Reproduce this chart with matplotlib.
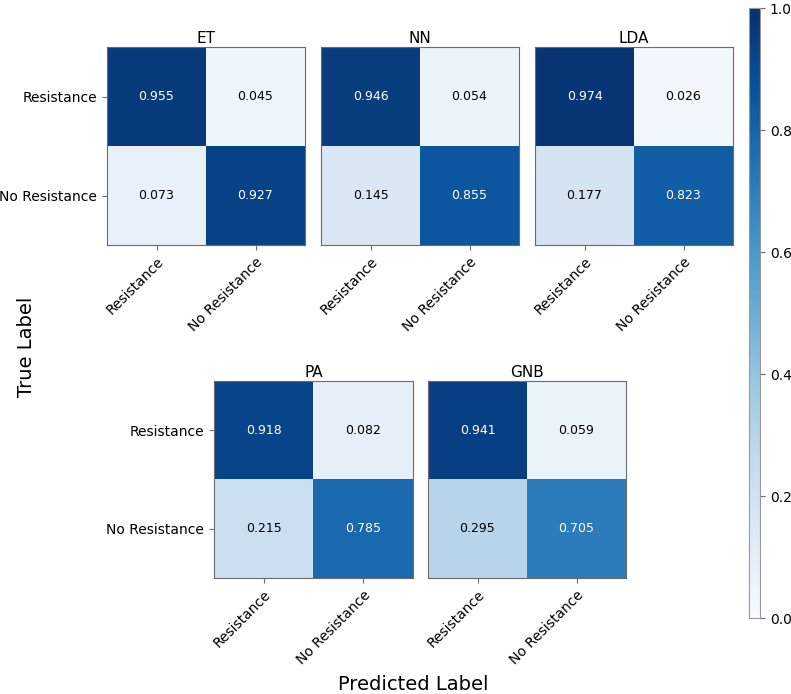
import numpy as np
import matplotlib
matplotlib.use("Agg")
import matplotlib.pyplot as plt

models = ["ET", "NN", "LDA", "PA", "GNB"]
class_labels = ["Resistance", "No Resistance"]
matrices = {
    "ET":  [[0.955, 0.045], [0.073, 0.927]],
    "NN":  [[0.946, 0.054], [0.145, 0.855]],
    "LDA": [[0.974, 0.026], [0.177, 0.823]],
    "PA":  [[0.918, 0.082], [0.215, 0.785]],
    "GNB": [[0.941, 0.059], [0.295, 0.705]],
}
cbar_ticks = [0.0, 0.2, 0.4, 0.6, 0.8, 1.0]

W, H = 791, 694
fig = plt.figure(figsize=(W / 100, H / 100), dpi=100)

def rect(x0, y0, x1, y1):
    return [x0 / W, 1 - y1 / H, (x1 - x0) / W, (y1 - y0) / H]

positions = {
    "ET": rect(107, 47, 305, 245),
    "NN": rect(321, 47, 519, 245),
    "LDA": rect(535, 47, 733, 245),
    "PA": rect(214, 381, 413, 578),
    "GNB": rect(428, 381, 626, 578),
}
frame_color = "#6b6b6b"
im = None
for m in models:
    ax = fig.add_axes(positions[m])
    data = np.array(matrices[m])
    im = ax.imshow(data, cmap="Blues", vmin=0, vmax=1, aspect="auto")
    for i in range(2):
        for j in range(2):
            v = data[i, j]
            ax.text(j, i, f"{v:.3f}", ha="center", va="center", fontsize=9,
                    color="white" if v > 0.5 else "black")
    ax.set_xticks(range(2))
    ax.set_xticklabels(class_labels, rotation=45, ha="right", rotation_mode="anchor", fontsize=10)
    ax.set_yticks(range(2))
    if m in ("ET", "PA"):
        ax.set_yticklabels(class_labels, fontsize=10)
    else:
        ax.set_yticklabels([])
        ax.tick_params(axis="y", length=0)
    ax.set_title(m, fontsize=11, pad=3)
    for s in ax.spines.values():
        s.set_color(frame_color)
    ax.tick_params(colors=frame_color, labelcolor="black")

cax = fig.add_axes(rect(749, 8, 760, 618))
cb = fig.colorbar(im, cax=cax, ticks=cbar_ticks)
cb.ax.tick_params(labelsize=10, colors=frame_color, labelcolor="black")
cb.outline.set_edgecolor("#999999")

fig.text(27 / W, 1 - 347 / H, "True Label", rotation=90, ha="center", va="center", fontsize=14)
fig.text(413 / W, 1 - 684 / H, "Predicted Label", ha="center", va="center", fontsize=14)

fig.savefig("out.png", dpi=100)
